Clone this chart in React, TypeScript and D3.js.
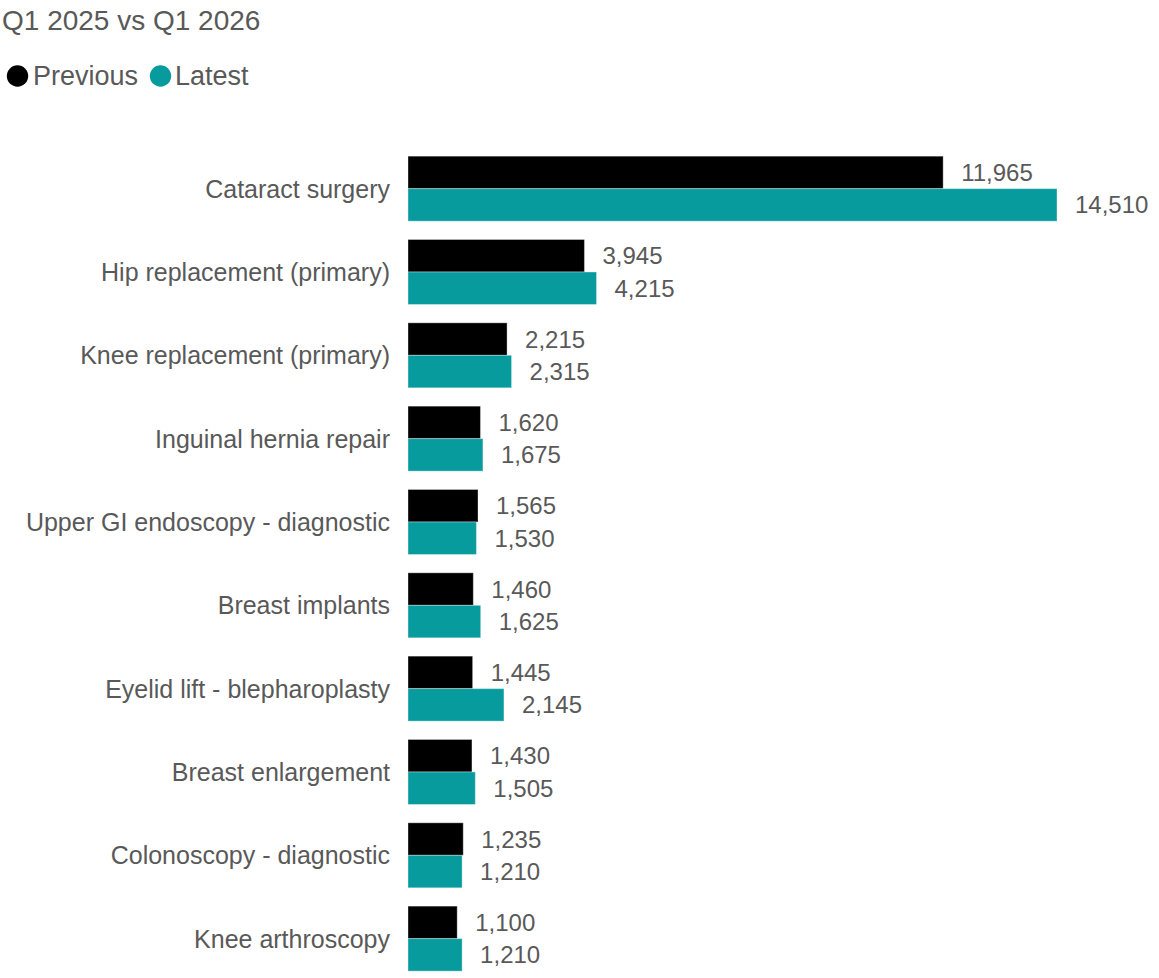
import React from 'react';
import * as d3 from 'd3';

const categories = [
  'Cataract surgery',
  'Hip replacement (primary)',
  'Knee replacement (primary)',
  'Inguinal hernia repair',
  'Upper GI endoscopy - diagnostic',
  'Breast implants',
  'Eyelid lift - blepharoplasty',
  'Breast enlargement',
  'Colonoscopy - diagnostic',
  'Knee arthroscopy',
];
const previousValues = [11965, 3945, 2215, 1620, 1565, 1460, 1445, 1430, 1235, 1100];
const latestValues = [14510, 4215, 2315, 1675, 1530, 1625, 2145, 1505, 1210, 1210];
const seriesNames = ['Previous', 'Latest'];
const seriesColors = ['#000000', '#089b9e'];

const W = 1159;
const H = 978;
const TEXT = '#595959';
const FONT = '"Liberation Sans", Arial, sans-serif';

export default function App() {
  const x = d3.scaleLinear().domain([0, 14510]).range([408, 1057]);
  const y = d3.scaleBand<string>()
    .domain(categories)
    .range([147, 980.3])
    .paddingInner(0.22)
    .paddingOuter(0.11);
  const ySub = d3.scaleBand<string>().domain(seriesNames).range([0, y.bandwidth()]);
  const fmt = d3.format(',');

  const series = [previousValues, latestValues];

  return (
    <svg width={W} height={H} style={{ position: 'absolute', left: 0, top: 0 }} fontFamily={FONT}>
      <text x={2} y={30} fontSize={28} fill={TEXT}>Q1 2025 vs Q1 2026</text>

      {/* legend */}
      <circle cx={17.5} cy={76} r={10.7} fill={seriesColors[0]} />
      <text x={33} y={85} fontSize={27} fill={TEXT}>{seriesNames[0]}</text>
      <circle cx={160.5} cy={76} r={10.7} fill={seriesColors[1]} />
      <text x={175} y={85} fontSize={27} fill={TEXT}>{seriesNames[1]}</text>

      {categories.map((c, i) => {
        const y0 = y(c)!;
        return (
          <g key={c}>
            <text
              x={390}
              y={y0 + y.bandwidth() / 2 + 9}
              textAnchor="end"
              fontSize={25}
              fill={TEXT}
            >
              {c}
            </text>
            {series.map((vals, s) => {
              const by = y0 + ySub(seriesNames[s])!;
              const bh = ySub.bandwidth();
              return (
                <g key={s}>
                  <rect
                    x={x(0)}
                    y={by}
                    width={x(vals[i]) - x(0)}
                    height={bh}
                    fill={seriesColors[s]}
                    stroke="rgba(255,255,255,0.35)"
                    strokeWidth={1}
                  />
                  <text
                    x={x(vals[i]) + 18}
                    y={by + bh / 2 + 8.5}
                    fontSize={24}
                    fill={TEXT}
                  >
                    {fmt(vals[i])}
                  </text>
                </g>
              );
            })}
          </g>
        );
      })}
    </svg>
  );
}
